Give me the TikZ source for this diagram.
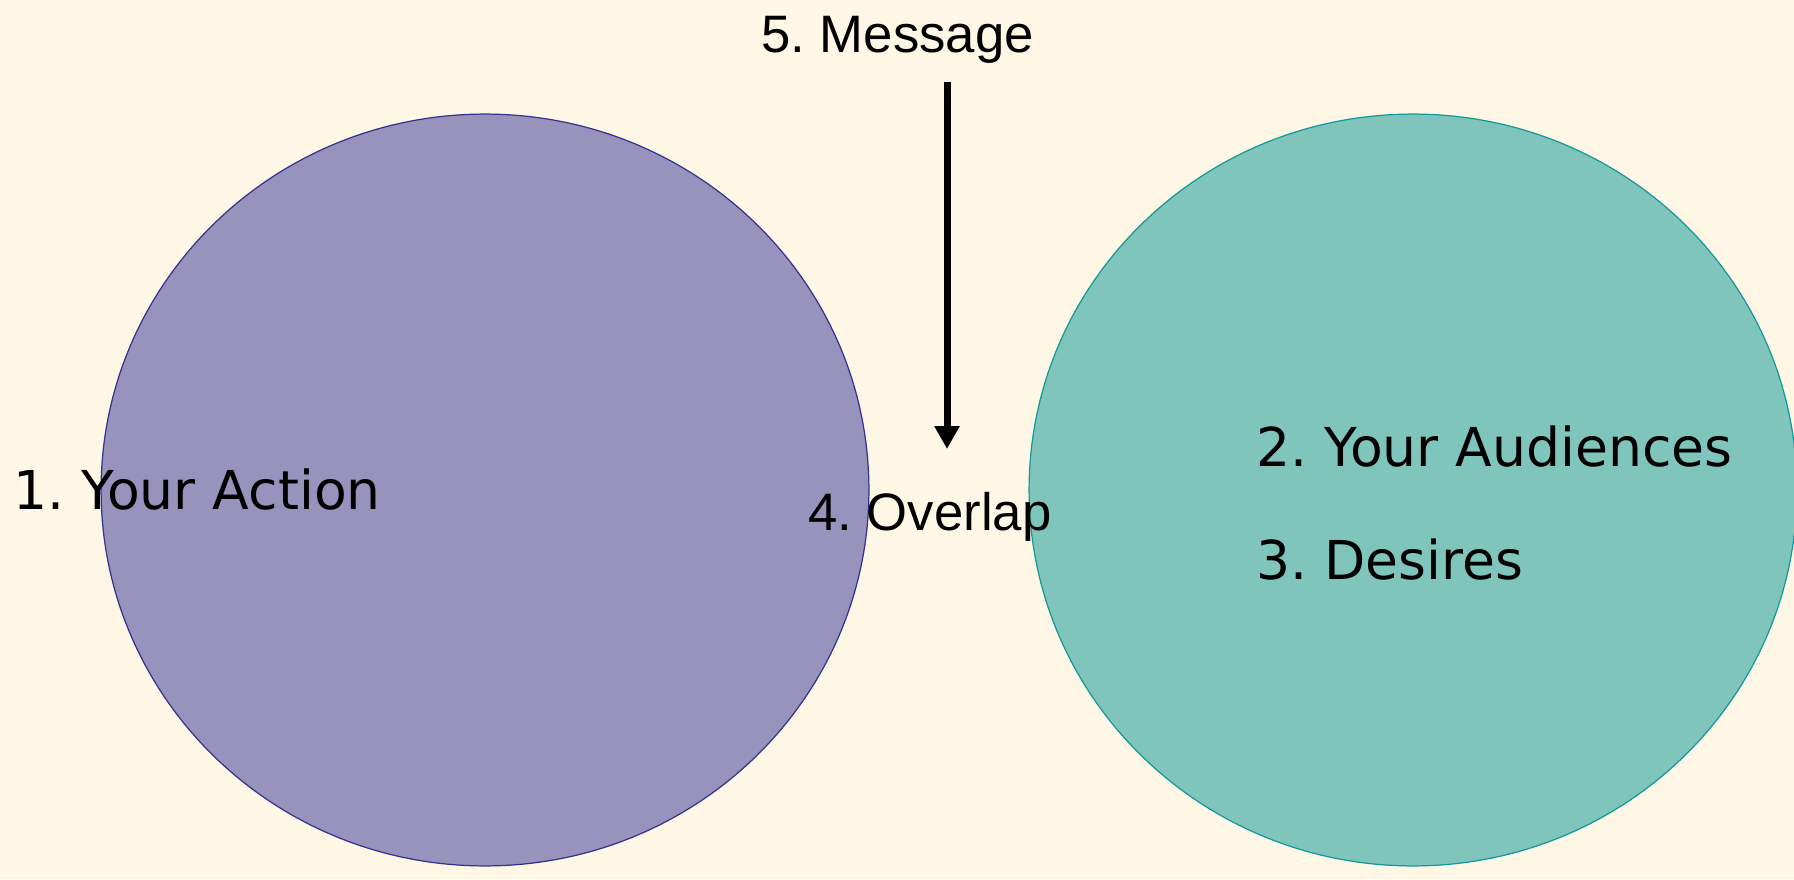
\documentclass[tikz,border=0pt]{standalone}
\usepackage{fontspec}
\newfontfamily\arialfont{Liberation Sans}
\newfontfamily\verdfont{DejaVu Sans}
\usetikzlibrary{shapes.geometric,arrows.meta}
\definecolor{bgcream}{HTML}{FFF7E5}
\definecolor{actionfill}{HTML}{9893BC}
\definecolor{actionline}{HTML}{33338F}
\definecolor{audfill}{HTML}{80C5BC}
\definecolor{audline}{HTML}{14999A}
\frenchspacing
\begin{document}
\begin{tikzpicture}[
  x=0.02cm, y=-0.02cm,
  bubble/.style={ellipse, inner sep=0pt, line width=0.7pt,
    minimum width=15.36cm, minimum height=15.04cm},
  label/.style={inner sep=0pt, anchor=base west, font=\verdfont\fontsize{30.5}{36}\selectfont},
  alabel/.style={inner sep=0pt, anchor=base west, font=\arialfont\fontsize{30}{36}\selectfont}
]
  \useasboundingbox (0,0) rectangle (1794,879);
  \fill[bgcream] (0,0) rectangle (1794,879);

  % circles
  \node[bubble, fill=actionfill, draw=actionline] (action) at (485,490) {};
  \node[bubble, fill=audfill, draw=audline]       (aud)    at (1413,490) {};

  % texts
  \node[label]  (act)  at (13,509)   {1. Your Action};
  \node[label]  (aud2) at (1256,466) {2. Your Audiences};
  \node[label]  (des)  at (1256,579) {3. Desires};
  \node[alabel] (ovl)  at (808,530)  {4. Overlap};
  \node[alabel] (msg)  at (761,52)   {5. Message};

  % arrow
  \coordinate (top) at (947,82);
  \coordinate (tip) at (947,449);
  \draw[-{Triangle[width=0.48cm,length=0.46cm]}, line width=4pt] (top) -- (tip);
\end{tikzpicture}
\end{document}
